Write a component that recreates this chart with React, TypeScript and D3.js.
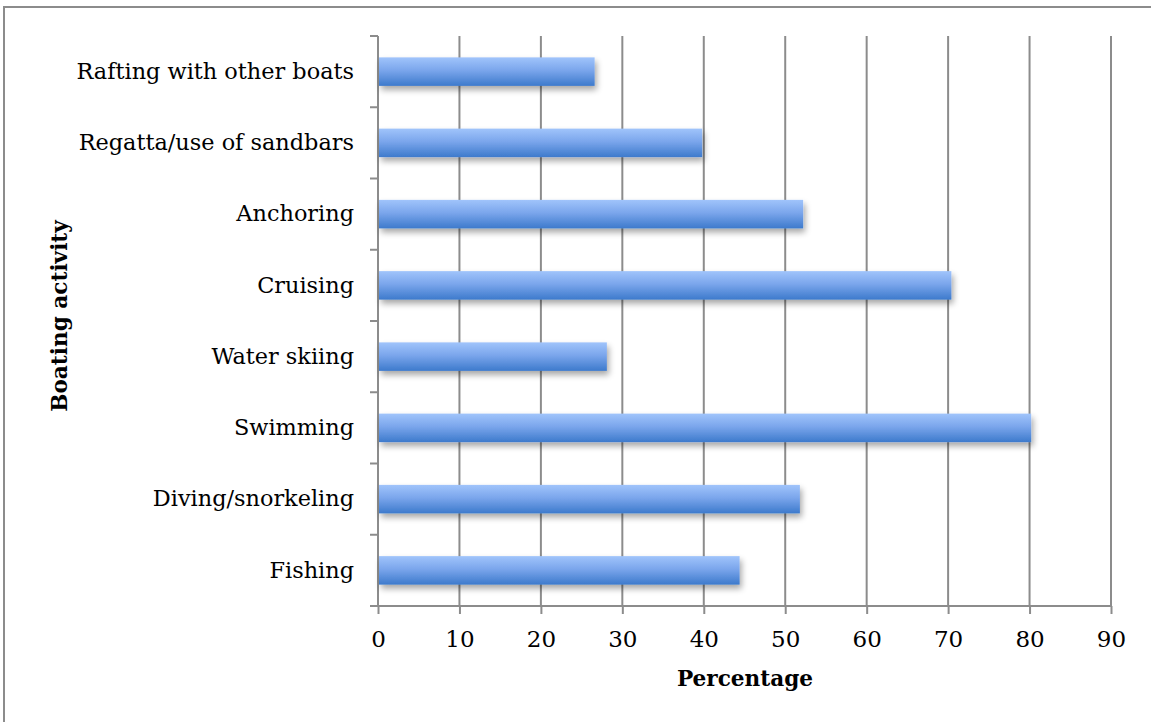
import React, { useRef, useEffect } from 'react'
import { select, scaleLinear, scaleBand, axisBottom, axisLeft, range } from 'd3'

const categories = [
  'Rafting with other boats',
  'Regatta/use of sandbars',
  'Anchoring',
  'Cruising',
  'Water skiing',
  'Swimming',
  'Diving/snorkeling',
  'Fishing',
]
const percentages = [26.6, 39.8, 52.2, 70.4, 28.1, 80.2, 51.8, 44.4]
const xTicks = [0, 10, 20, 30, 40, 50, 60, 70, 80, 90]

const W = 1151
const H = 722
const margin = { left: 378, right: 40, top: 36, bottom: 116 }
const FONT = '"DejaVu Serif", "Liberation Serif", serif'

function App() {
  const svgRef = useRef<SVGSVGElement>(null)

  useEffect(() => {
    const svg = select(svgRef.current)
    const plotW = 1111 - margin.left
    const plotH = 606 - margin.top

    const x = scaleLinear().domain([0, 90]).range([0, plotW])
    const y = scaleBand<string>().domain(categories).range([0, plotH]).paddingInner(0.6).paddingOuter(0.3)

    const g = svg.select<SVGGElement>('.plot').attr('transform', `translate(${margin.left},${margin.top})`)

    // vertical gridlines
    g.select('.grid')
      .selectAll('line')
      .data(xTicks.slice(1))
      .join('line')
      .attr('x1', d => x(d))
      .attr('x2', d => x(d))
      .attr('y1', 0)
      .attr('y2', plotH)
      .attr('stroke', '#8c8c8c')
      .attr('stroke-width', 2)

    // bars
    g.select('.bars')
      .selectAll('rect')
      .data(percentages)
      .join('rect')
      .attr('x', 1)
      .attr('y', (d, i) => y(categories[i])!)
      .attr('width', d => x(d) - 1)
      .attr('height', y.bandwidth())
      .attr('fill', 'url(#barGrad)')
      .attr('filter', 'url(#shadow)')

    // x axis
    const xAxis = axisBottom(x).tickValues(xTicks).tickSize(8).tickPadding(17)
    const xa = g.select<SVGGElement>('.x-axis').attr('transform', `translate(0,${plotH})`).call(xAxis)
    xa.select('.domain').attr('stroke', '#8c8c8c').attr('stroke-width', 2).attr('d', `M-8,0H${plotW}`)
    xa.selectAll('.tick line').attr('stroke', '#8c8c8c').attr('stroke-width', 2)
    xa.selectAll('.tick text').attr('font-family', FONT).attr('font-size', 23).attr('fill', '#000')

    // y axis: ticks at band boundaries
    const yAxis = axisLeft(y).tickSize(0).tickPadding(24)
    const ya = g.select<SVGGElement>('.y-axis').call(yAxis)
    ya.select('.domain').attr('stroke', '#8c8c8c').attr('stroke-width', 2).attr('d', `M0,0V${plotH}`)
    ya.selectAll('.tick text').attr('font-family', FONT).attr('font-size', 22.4).attr('fill', '#000')
    ya.selectAll('.bound')
      .data(range(categories.length + 1))
      .join('line')
      .attr('class', 'bound')
      .attr('x1', -8)
      .attr('x2', 0)
      .attr('y1', i => (plotH / categories.length) * i)
      .attr('y2', i => (plotH / categories.length) * i)
      .attr('stroke', '#8c8c8c')
      .attr('stroke-width', 2)
  }, [])

  return (
    <svg ref={svgRef} width={W} height={H} style={{ position: 'absolute', left: 0, top: 0, background: '#fff' }}>
      <defs>
        <linearGradient id="barGrad" x1="0" y1="0" x2="0" y2="1">
          <stop offset="0%" stopColor="#a0c4fb" />
          <stop offset="45%" stopColor="#7ba6ec" />
          <stop offset="100%" stopColor="#3d7acc" />
        </linearGradient>
        <filter id="shadow" x="-5%" y="-30%" width="110%" height="180%">
          <feGaussianBlur in="SourceAlpha" stdDeviation="3" />
          <feOffset dx="2" dy="4" result="blur" />
          <feComponentTransfer>
            <feFuncA type="linear" slope="0.35" />
          </feComponentTransfer>
          <feMerge>
            <feMergeNode />
            <feMergeNode in="SourceGraphic" />
          </feMerge>
        </filter>
      </defs>
      <rect x={4} y={7} width={W + 10} height={H + 10} fill="#fff" stroke="#8c8c8c" strokeWidth={2} />
      <g className="plot">
        <g className="grid" />
        <g className="x-axis" />
        <g className="y-axis" />
        <g className="bars" />
      </g>
      <text x={745} y={686} textAnchor="middle" fontFamily={FONT} fontSize={21.6} fontWeight="bold">
        Percentage
      </text>
      <text
        transform="translate(67,316) rotate(-90)"
        textAnchor="middle"
        fontFamily={FONT}
        fontSize={21.6}
        fontWeight="bold"
      >
        Boating activity
      </text>
    </svg>
  )
}

export default App
